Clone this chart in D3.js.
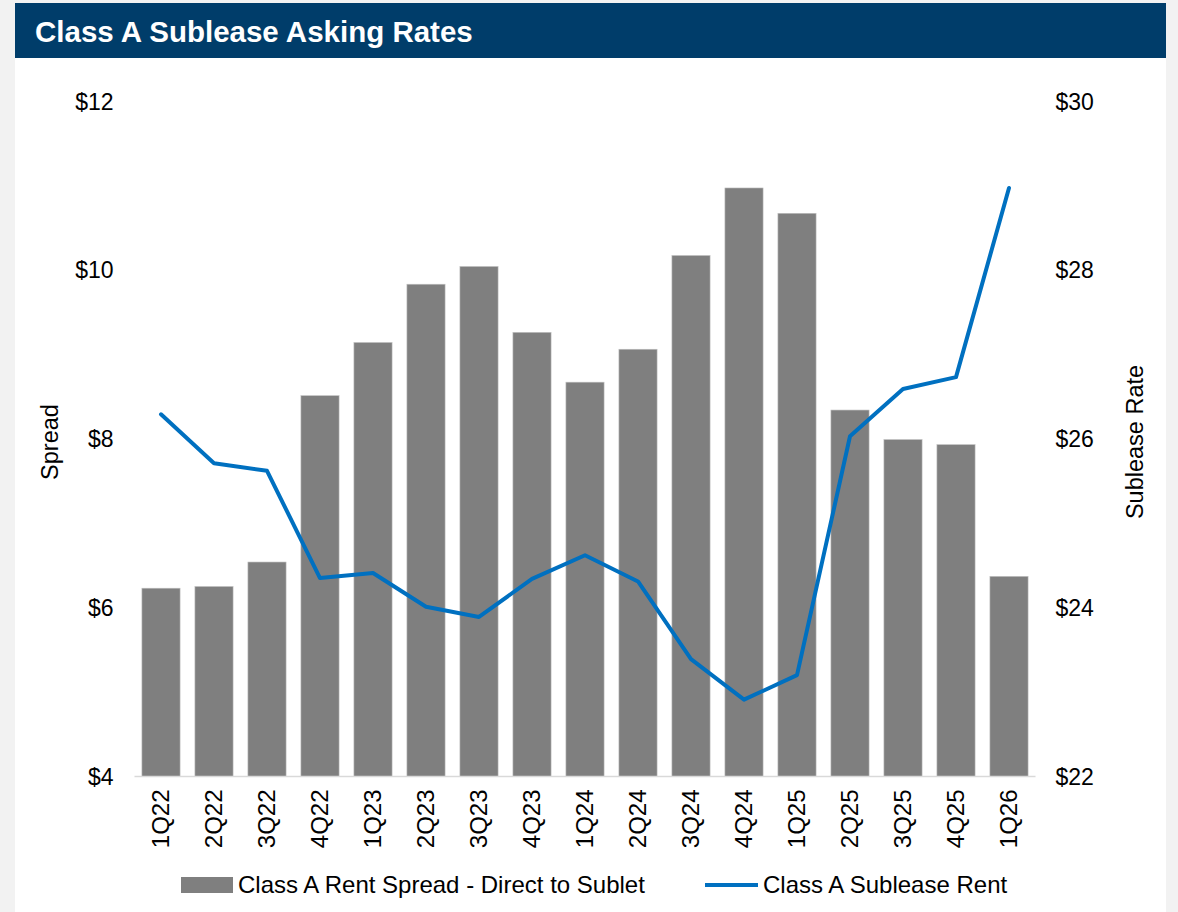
<!DOCTYPE html>
<html>
<meta charset="utf-8">
<style>
body{
	margin:0;
	background:#f2f2f2;
	font-family:"Liberation Sans", Arial, sans-serif;
}
.panel{
	position:absolute;
	left:15px;
	top:3px;
	width:1151px;
	height:909px;
	background:#fff;
}
.title{
	margin:0;
	height:55px;
	line-height:57px;
	padding-left:20px;
	background:#003d6a;
	color:#fff;
	font-size:29.5px;
	font-weight:bold;
}
svg{ position:absolute; left:0; top:0; }
.tick text{ font-size:23px; fill:#000; font-family:"Liberation Sans", Arial, sans-serif; }
.xax .tick text{ font-size:24px; }
</style>
<body>
<div class="panel"><h1 class="title">Class A Sublease Asking Rates</h1></div>
<svg width="1178" height="912"></svg>
<script src="https://d3js.org/d3.v7.min.js"></script>
<script>

var quarters = ["1Q22","2Q22","3Q22","4Q22","1Q23","2Q23","3Q23","4Q23","1Q24","2Q24","3Q24","4Q24","1Q25","2Q25","3Q25","4Q25","1Q26"];
var spread = [6.23,6.25,6.54,8.51,9.14,9.83,10.04,9.26,8.67,9.06,10.17,10.97,10.67,8.34,7.99,7.93,6.37];
var subleaseRent = [26.29,25.71,25.62,24.35,24.41,24.01,23.89,24.34,24.62,24.31,23.39,22.91,23.20,26.03,26.59,26.73,28.97];
var leftTicks = [4,6,8,10,12];
var rightTicks = [22,24,26,28,30];

var svg = d3.select("svg");
var plotTop = 101, plotBottom = 776.5, plotLeft = 134.5, plotRight = 1035.5;

var x = d3.scaleBand().domain(quarters).range([plotLeft, plotRight]).paddingInner(0.28).paddingOuter(0.14);
var yL = d3.scaleLinear().domain([4,12]).range([plotBottom, plotTop]);
var yR = d3.scaleLinear().domain([22,30]).range([plotBottom, plotTop]);

// bars
svg.append("g").selectAll("rect")
    .data(spread)
    .enter().append("rect")
      .attr("x", function(d,i){ return x(quarters[i]); })
      .attr("width", x.bandwidth())
      .attr("y", function(d){ return yL(d); })
      .attr("height", function(d){ return plotBottom - yL(d); })
      .attr("fill", "#7f7f7f")
      .attr("stroke", "#bfbfbf")
      .attr("stroke-width", 0.6);

// baseline
svg.append("line")
    .attr("x1", plotLeft).attr("x2", plotRight)
    .attr("y1", plotBottom).attr("y2", plotBottom)
    .attr("stroke", "#d9d9d9").attr("stroke-width", 1.5);

// line
var line = d3.line()
    .x(function(d,i){ return x(quarters[i]) + x.bandwidth()/2; })
    .y(function(d){ return yR(d); });
svg.append("path")
    .datum(subleaseRent)
    .attr("d", line)
    .attr("fill", "none")
    .attr("stroke", "#0070c0")
    .attr("stroke-width", 4)
    .attr("stroke-linejoin", "round")
    .attr("stroke-linecap", "round");

// axes
var fmt = function(d){ return "$" + d; };
var gl = svg.append("g").attr("transform", "translate(" + (plotLeft - 21) + ",0)")
    .call(d3.axisLeft(yL).tickValues(leftTicks).tickFormat(fmt).tickSize(0));
gl.select(".domain").remove();
gl.selectAll("text").attr("x", 0).attr("dy", "0.35em");

var gr = svg.append("g").attr("transform", "translate(" + (plotRight + 20) + ",0)")
    .call(d3.axisRight(yR).tickValues(rightTicks).tickFormat(fmt).tickSize(0));
gr.select(".domain").remove();
gr.selectAll("text").attr("x", 0).attr("dy", "0.35em");

var gx = svg.append("g").attr("class", "xax").attr("transform", "translate(0," + plotBottom + ")")
    .call(d3.axisBottom(x).tickSize(0));
gx.select(".domain").remove();
gx.selectAll("text")
    .attr("transform", "rotate(-90)")
    .attr("x", -13).attr("y", 0).attr("dy", "0.35em")
    .style("text-anchor", "end");

// axis titles
svg.append("text")
    .attr("transform", "translate(58,442) rotate(-90)")
    .attr("text-anchor", "middle")
    .style("font-size", "23.5px")
    .text("Spread");
svg.append("text")
    .attr("transform", "translate(1143,442) rotate(-90)")
    .attr("text-anchor", "middle")
    .style("font-size", "23.5px")
    .text("Sublease Rate");

// legend
var lg = svg.append("g").style("font-size", "24px");
lg.append("rect").attr("x", 181).attr("y", 877).attr("width", 52).attr("height", 16).attr("fill", "#7f7f7f");
lg.append("text").attr("x", 238).attr("y", 893).text("Class A Rent Spread - Direct to Sublet");
lg.append("line").attr("x1", 705).attr("x2", 758).attr("y1", 885).attr("y2", 885)
    .attr("stroke", "#0070c0").attr("stroke-width", 4);
lg.append("text").attr("x", 763).attr("y", 893).text("Class A Sublease Rent");

</script>
</body>
</html>
